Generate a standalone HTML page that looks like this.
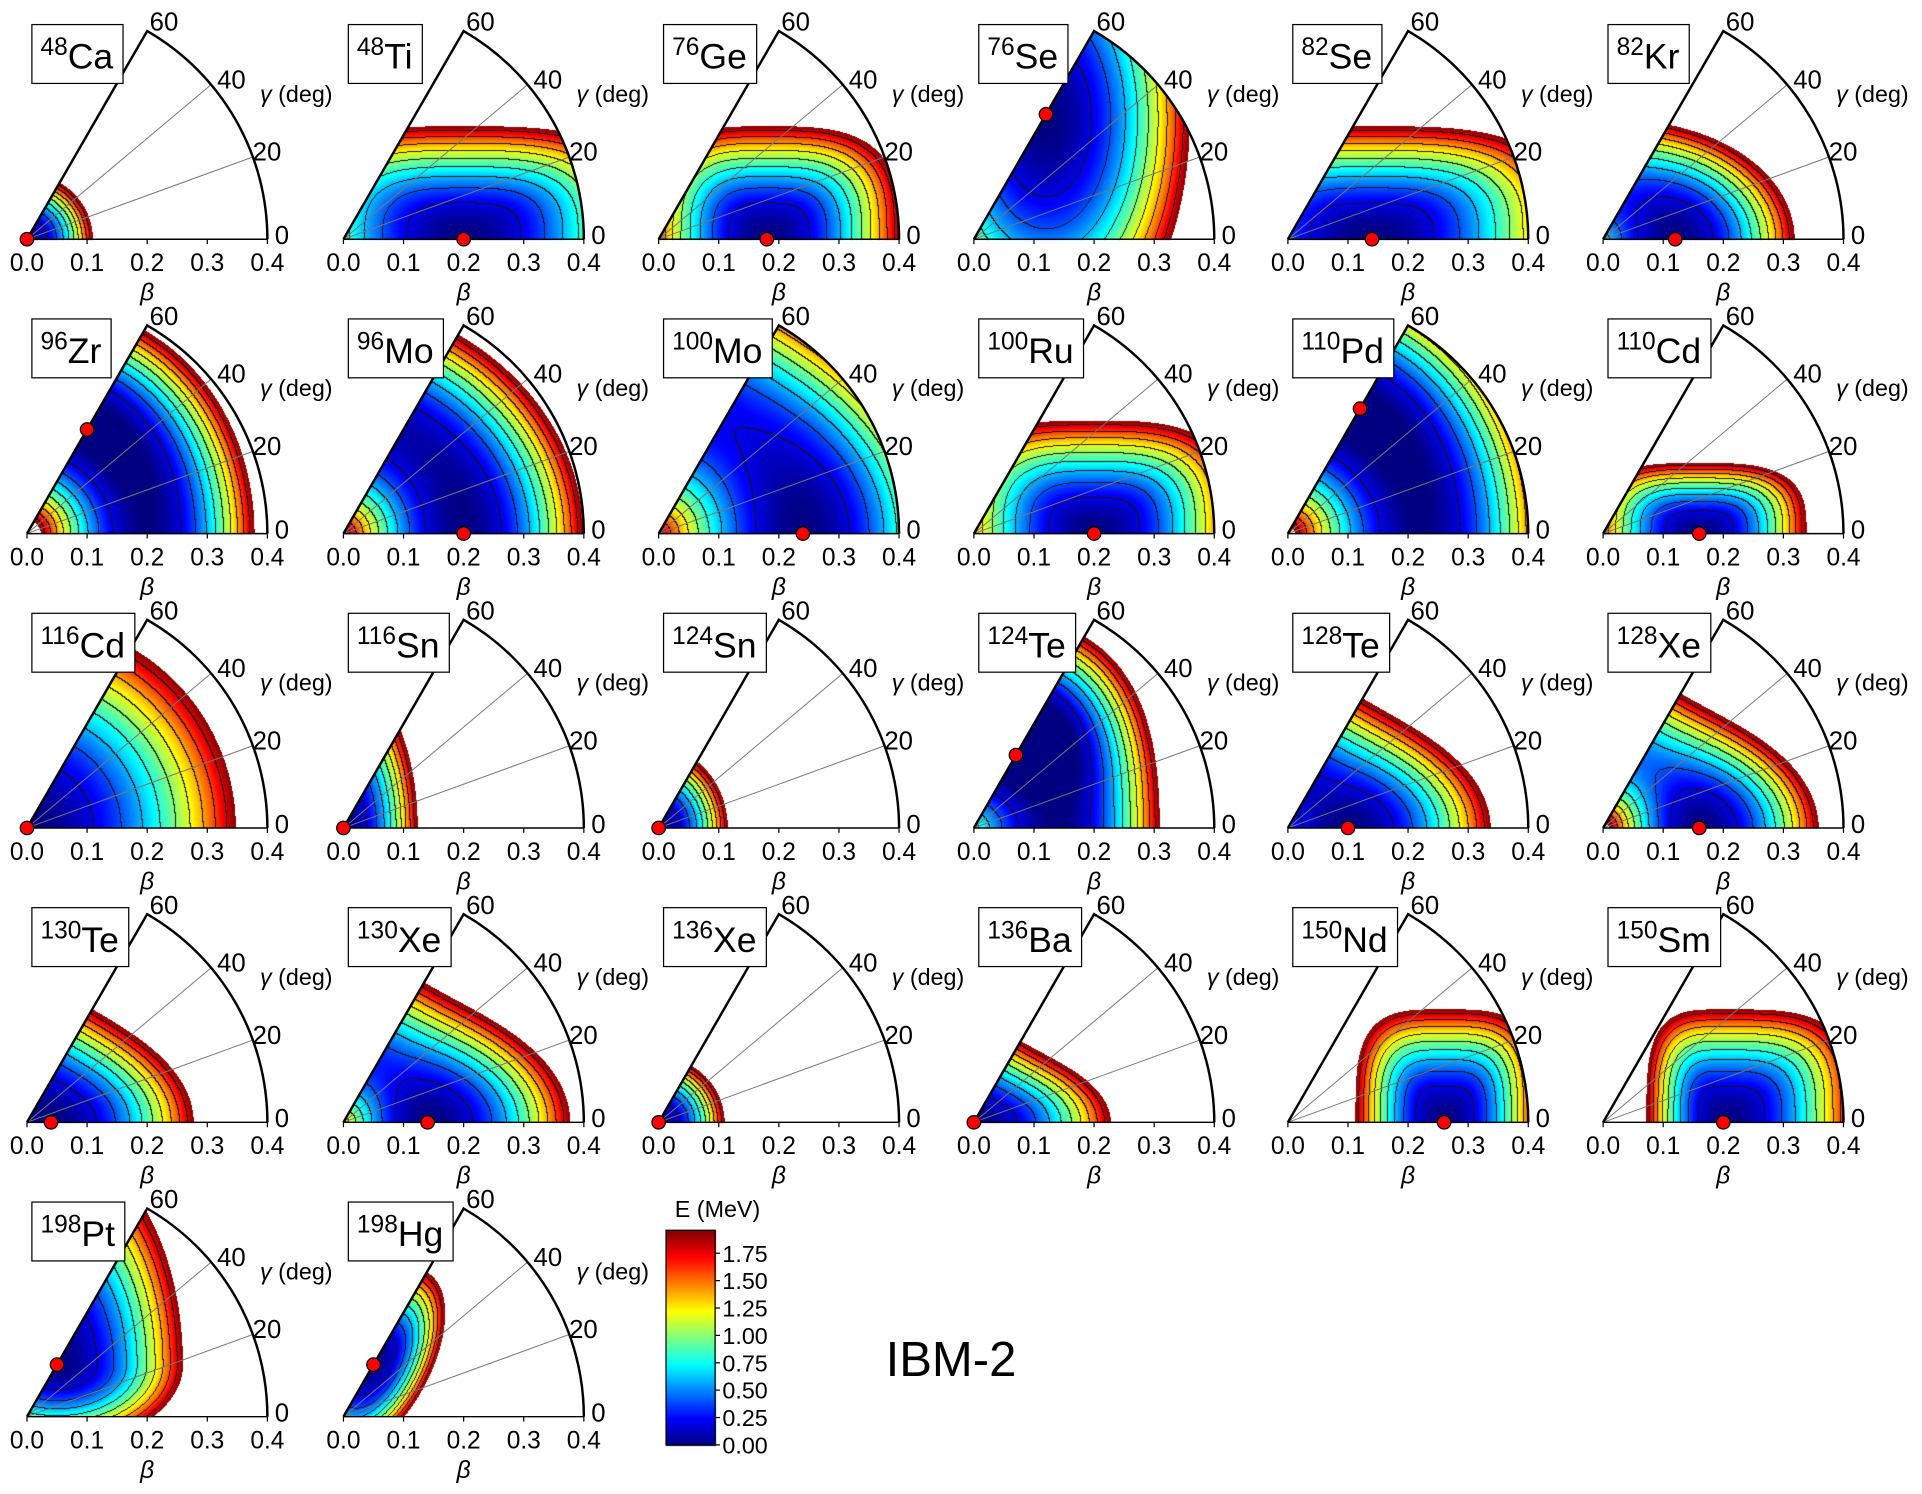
<!DOCTYPE html>
<html><head><meta charset="utf-8">
<style>
html,body{margin:0;padding:0;background:#fff;}
#wrap{position:relative;width:1922px;height:1494px;overflow:hidden;}
canvas,svg{position:absolute;left:0;top:0;}
text{font-family:"Liberation Sans",sans-serif;fill:#000;}
</style></head>
<body>
<div id="wrap">
<canvas id="cv" width="1922" height="1494"></canvas>
<svg id="sv" width="1922" height="1494" viewBox="0 0 1567 1218"></svg>
</div>
<script>
// ---- data ----
const masses = ["48","48","76","76","82","82","96","96","100","100","110","110","116","116","124","124","128","128","130","130","136","136","150","150","198","198"];
const elems  = ["Ca","Ti","Ge","Se","Se","Kr","Zr","Mo","Mo","Ru","Pd","Cd","Cd","Sn","Sn","Te","Te","Xe","Te","Xe","Xe","Ba","Nd","Sm","Pt","Hg"];
const minBeta  = [0,0.2,0.18,0.24,0.14,0.12,0.2,0.2,0.24,0.2,0.24,0.16,0,0,0,0.14,0.1,0.16,0.04,0.14,0,0,0.26,0.2,0.1,0.1];
const minGamma = [0,0,0,60,0,0,60,0,0,0,60,0,0,0,0,60,0,0,0,0,0,0,0,0,60,60];
// surface parameters (energy model coefficients per nucleus)
const pTh = [0,0,0,0,0,0,0,0,0,0,0,0,0,0,0,0,0,0,0,0,0,0,0,0,0,60];
const pSm = [0,0.2,0.18,0.12,0.14,0,0,0,0,0.2,0,0.16,0,0,0,0,0,0,0,0,0,0,0.26,0.2,0.05,0.1];
const pAL = [0,22,49,34.5,19,0,0,0,0,35,0,62,0,100,40,0,0,0,0,0,0,0,89,118,45,62];
const pAR = [0,22,40,34.5,19,0,0,0,0,35,0,62,0,100,40,0,0,0,0,0,0,0,80,42,45,62];
const pTm = [0,0,0,0.2,0,0,0,0,0,0,0,0,0,0,0,0,0,0,0,0,0,0,0,0,0.087,0];
const pBL = [0,55,55,12,55,40,0,0,0,55,0,140,0,0,0,0,0,0,0,0,0,0,55,55,110,240];
const pBR = [0,55,55,12,55,40,0,0,0,55,0,140,0,0,0,0,0,0,0,0,0,0,55,55,15,240];
const pBm = [0,0,0,0,0,0.12,0.2,0.2,0.24,0,0.22,0,0,0,0,0.14,0.1,0.16,0.04,0.14,0,0,0,0,0,0];
const pCL = [165,0,0,0,0,50,62,50,33,0,45,0,16.3,30,110,46,35,86,35,70,165,38,0,0,0,0];
const pCR = [165,0,0,0,0,50,62,50,33,0,45,0,16.3,30,110,69,35,50,35,35,165,38,0,0,0,0];
const pDg = [0,0,0,0,0,0,-2,2,4,0,-1.5,0,0,0,0,-12,19,22,18,19,0,42,0,0,0,0];
const pPn = [1,1.6,1.6,1,1.6,1,1,1,1,1.6,1,1.6,1,1,1,1,1,1,1,1,1,1,1.8,1.8,1,1];
const cbTicks = ["0.00","0.25","0.50","0.75","1.00","1.25","1.50","1.75"];
const betaTicks = ["0.0","0.1","0.2","0.3","0.4"];
const gammaTicks = ["0","20","40","60"];

const S = 1922/1567, PX = 490, VMAX = 1.96, STEP = 0.2;
const colX = [22,280,537,794,1050,1307];
const rowY = [195,435,675,915,1155];
function origin(i){return [colX[i%6], rowY[Math.floor(i/6)]];}
function energy(i,x,y){
  const th=pTh[i]*Math.PI/180;
  const s=x*Math.cos(th)+y*Math.sin(th), t=-x*Math.sin(th)+y*Math.cos(th);
  const b=Math.hypot(x,y), g=Math.atan2(y,x), p=pPn[i];
  let d, Ea, Eb, Ec;
  d=s-pSm[i]; Ea=(d<0?pAL[i]:pAR[i])*d*d;
  d=t-pTm[i]; Eb=(d<0?pBL[i]:pBR[i])*d*d;
  d=b-pBm[i]; Ec=(d<0?pCL[i]:pCR[i])*d*d;
  let E=Math.pow(Math.pow(Ea,p)+Math.pow(Eb,p)+Math.pow(Ec,p),1/p);
  E+=pDg[i]*b*b*(1-Math.cos(3*g))/2;
  return Math.max(0,E);
}
function jet(t){const c=v=>Math.max(0,Math.min(1,v));return [c(1.5-Math.abs(4*t-3))*255,c(1.5-Math.abs(4*t-2))*255,c(1.5-Math.abs(4*t-1))*255];}

// ---- canvas surfaces ----
const cv=document.getElementById('cv'), ctx=cv.getContext('2d');
const img=ctx.createImageData(1922,1494), D=img.data;
for(let k=0;k<D.length;k+=4){D[k]=D[k+1]=D[k+2]=255;D[k+3]=255;}
const T60=Math.tan(Math.PI/3);
for(let i=0;i<masses.length;i++){
  const [ox,oy]=origin(i);
  const x0=Math.floor(ox*S), x1=Math.ceil((ox+197)*S), y0=Math.floor((oy-172)*S), y1=Math.ceil(oy*S);
  const W=x1-x0+1, H=y1-y0+1, L=new Int16Array(W*H).fill(-1), C=new Float32Array(W*H);
  for(let py=y0;py<=y1;py++)for(let px=x0;px<=x1;px++){
    const x=(px/S-ox)/PX, y=(oy-py/S)/PX;
    if(y<0||y>x*T60+0.002||Math.hypot(x,y)>0.4) continue;
    const E=energy(i,x,y);
    if(E>VMAX) continue;
    const k=(py-y0)*W+(px-x0); L[k]=Math.floor(E/STEP); C[k]=E;
  }
  for(let yy=0;yy<H;yy++)for(let xx=0;xx<W;xx++){
    const k=yy*W+xx; if(L[k]<0) continue;
    let line=false;
    if(xx+1<W&&L[k+1]>=0&&L[k+1]!==L[k]) line=true;
    if(yy+1<H&&L[k+W]>=0&&L[k+W]!==L[k]) line=true;
    const col=line?[20,20,20]:jet(C[k]/VMAX);
    const o=((y0+yy)*1922+(x0+xx))*4; D[o]=col[0];D[o+1]=col[1];D[o+2]=col[2];
  }
}
// colorbar gradient
(function(){const bx0=Math.round(543*S),bx1=Math.round(583*S),by0=Math.round(1003*S),by1=Math.round(1178*S);
for(let py=by0;py<=by1;py++){const t=(by1-py)/(by1-by0);const c=jet(t);for(let px=bx0;px<=bx1;px++){const o=(py*1922+px)*4;D[o]=c[0];D[o+1]=c[1];D[o+2]=c[2];}}})();
ctx.putImageData(img,0,0);

// ---- svg axes ----
const sv=document.getElementById('sv'), NS='http://www.w3.org/2000/svg';
function mk(tag,attrs,parent){const e=document.createElementNS(NS,tag);for(const k in attrs)e.setAttribute(k,attrs[k]);(parent||sv).appendChild(e);return e;}
for(let i=0;i<masses.length;i++){
  const [ox,oy]=origin(i), R=0.4*PX;
  const g=mk('g',{});
  
  
  [20,40].forEach(a=>{const r=a*Math.PI/180;
    const l=mk('line',{x1:ox,y1:oy,x2:ox+R*Math.cos(r),y2:oy-R*Math.sin(r),stroke:'#777','stroke-width':0.8},g);
    
    });
  const tx=ox+R*Math.cos(Math.PI/3), ty=oy-R*Math.sin(Math.PI/3);
  const fr=mk('path',{d:`M${ox},${oy} L${tx},${ty} A${R},${R} 0 0 1 ${ox+R},${oy}`,fill:'none',stroke:'#000','stroke-width':2},g);
  
  
  const ax=mk('line',{x1:ox,y1:oy,x2:ox+R,y2:oy,stroke:'#000','stroke-width':1.2},g);
  
  
  betaTicks.forEach((t,j)=>{const x=ox+parseFloat(t)*PX;
    mk('line',{x1:x,y1:oy,x2:x,y2:oy+4,stroke:'#000','stroke-width':1},g);
    const tt=mk('text',{x:x,y:oy+26,'font-size':20,'text-anchor':'middle'},g);tt.textContent=t;
    
    });
  const bl=mk('text',{x:ox+98,y:oy+50,'font-size':20,'font-style':'italic','text-anchor':'middle'},g);bl.textContent='β';
  
  
  const gpos=[[ox+202,oy+4],[ox+184,oy-64],[ox+155,oy-123],[ox+100,oy-170]];
  gammaTicks.forEach((t,j)=>{const tt=mk('text',{x:gpos[j][0],y:gpos[j][1],'font-size':21},g);tt.textContent=t;
    
    });
  const gt=mk('text',{x:ox+190,y:oy-112,'font-size':19},g);
  gt.innerHTML='<tspan font-style="italic">γ</tspan> (deg)';
  
  
  // min dot
  const mb=minBeta[i], mg=minGamma[i]*Math.PI/180;
  const dot=mk('circle',{cx:ox+mb*PX*Math.cos(mg),cy:oy-mb*PX*Math.sin(mg),r:5.5,fill:'#f00',stroke:'#000','stroke-width':1},g);
  
  
  // name box
  const rect=mk('rect',{x:ox+4,y:oy-175,width:76,height:48,fill:'#fff',stroke:'#000','stroke-width':1},g);
  
  
  const nt=mk('text',{x:ox+11,y:oy-139,'font-size':29},g);
  nt.innerHTML=`<tspan font-size="20" dy="-11">${masses[i]}</tspan><tspan dy="11">${elems[i]}</tspan>`;
  
  
  try{const w=nt.getComputedTextLength();if(w>10)rect.setAttribute('width',w+15);}catch(e){}
}
// colorbar
const cb=mk('g',{});


mk('rect',{x:543,y:1003,width:40,height:175,fill:'none',stroke:'#000','stroke-width':1},cb);
cbTicks.forEach(t=>{const v=parseFloat(t), y=1178-v/VMAX*175;
  mk('line',{x1:583,y1:y,x2:587,y2:y,stroke:'#000','stroke-width':1},cb);
  const tt=mk('text',{x:589,y:y+7,'font-size':19},cb);tt.textContent=t;
  
  });
const cbt=mk('text',{x:585,y:992,'font-size':19,'text-anchor':'middle'},cb);cbt.textContent='E (MeV)';


const ib=mk('text',{x:722,y:1122,'font-size':40},sv);ib.textContent='IBM-2';


</script>
</body></html>
